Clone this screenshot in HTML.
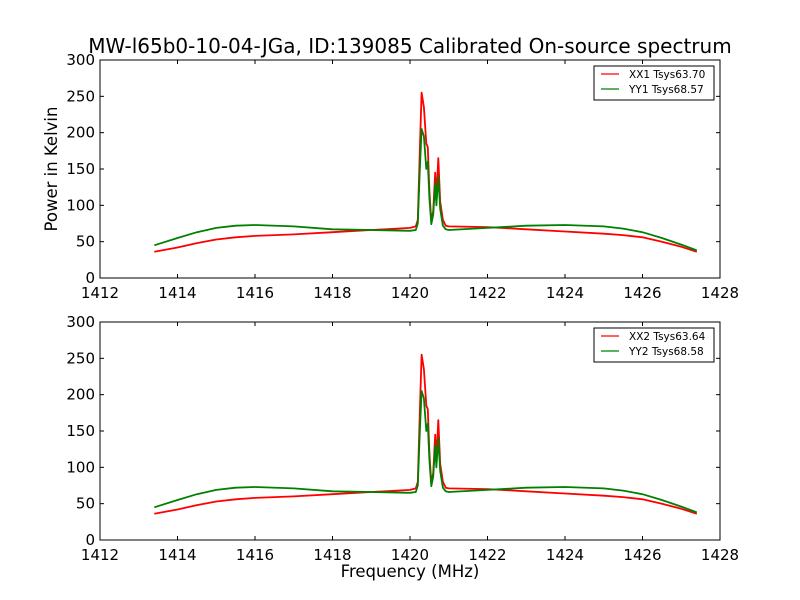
<!DOCTYPE html>
<html><head><meta charset="utf-8"><style>
body{margin:0;background:#fff}
svg{display:block;font-family:"DejaVu Sans","Liberation Sans",sans-serif}
</style></head><body>
<svg id="c" width="800" height="600" viewBox="0 0 800 600" xmlns="http://www.w3.org/2000/svg">
<rect width="800" height="600" fill="#fff"/>
<text x="410" y="53" text-anchor="middle" font-size="20">MW-l65b0-10-04-JGa, ID:139085 Calibrated On-source spectrum</text>
<text x="57" y="169" text-anchor="middle" font-size="16.5" transform="rotate(-90 57 169)">Power in Kelvin</text>
<text x="410" y="577" text-anchor="middle" font-size="16.5">Frequency (MHz)</text>
</svg>
<script>
const freqs=[1413.4,1414,1414.5,1415,1415.5,1416,1417,1418,1419,1420,1420.15,1420.2,1420.25,1420.3,1420.36,1420.42,1420.46,1420.5,1420.55,1420.6,1420.65,1420.68,1420.73,1420.78,1420.85,1420.92,1421,1422,1423,1424,1425,1425.5,1426,1426.5,1427,1427.4];
const xx1=[36,42,48,53,56,58,60,63,66,69,71,80,170,255,235,185,180,120,78,92,145,110,165,105,80,72,71,70,67,64,61,59,56,50,43,36];
const yy1=[45,55,63,69,72,73,71,67,66,65,66,75,145,205,195,150,160,110,74,87,130,100,140,95,72,67,66,69,72,73,71,68,63,55,46,38];
const xx2=xx1.slice();
const yy2=yy1.slice();
const xTicks=[1412,1414,1416,1418,1420,1422,1424,1426,1428];
const yTicks=[0,50,100,150,200,250,300];
const panels=[{top:60,names:['XX1 Tsys63.70','YY1 Tsys68.57'],a:xx1,b:yy1,id:'top'},{top:322,names:['XX2 Tsys63.64','YY2 Tsys68.58'],a:xx2,b:yy2,id:'bottom'}];
const svg=document.getElementById('c');
const NS='http://www.w3.org/2000/svg';
function mk(t,at,p){const e=document.createElementNS(NS,t);for(const k in at)e.setAttribute(k,at[k]);(p||svg).appendChild(e);return e;}
const L=100,R=720,H=218;
const xs=f=>L+(f-1412)/(1428-1412)*(R-L);
panels.forEach(p=>{
  const ys=v=>p.top+H-v/300*H;
  const g=mk('g',{});
  
  
  [[p.a,'#ff0000','xx'],[p.b,'#008000','yy']].forEach(s=>{
    const pl=mk('polyline',{points:freqs.map((f,i)=>xs(f).toFixed(1)+','+ys(s[0][i]).toFixed(1)).join(' '),fill:'none',stroke:s[1],'stroke-width':1.8,'stroke-linejoin':'round'},g);
    
    
  });
  mk('rect',{x:L,y:p.top,width:R-L,height:H,fill:'none',stroke:'#000','stroke-width':1},g);
  xTicks.forEach(t=>{
    const x=xs(t);
    mk('line',{x1:x,x2:x,y1:p.top+H,y2:p.top+H-4,stroke:'#000'},g);
    mk('line',{x1:x,x2:x,y1:p.top,y2:p.top+4,stroke:'#000'},g);
    const tx=mk('text',{x:x,y:p.top+H+20,'text-anchor':'middle','font-size':15},g);tx.textContent=t;
    
    
  });
  yTicks.forEach(t=>{
    const y=ys(t);
    mk('line',{x1:L,x2:L+4,y1:y,y2:y,stroke:'#000'},g);
    mk('line',{x1:R,x2:R-4,y1:y,y2:y,stroke:'#000'},g);
    const tx=mk('text',{x:L-5,y:y+5,'text-anchor':'end','font-size':15},g);tx.textContent=t;
    
    
  });
  const lg=mk('g',{},g);
  
  
  mk('rect',{x:594,y:p.top+6,width:120,height:34,fill:'#fff',stroke:'#000'},lg);
  [['#ff0000',p.names[0]],['#008000',p.names[1]]].forEach((e,i)=>{
    const y=p.top+14+i*15;
    mk('line',{x1:601,x2:619,y1:y,y2:y,stroke:e[0],'stroke-width':1.2},lg);
    const tx=mk('text',{x:629,y:y+4,'font-size':10.5},lg);tx.textContent=e[1];
    
    
  });
});
</script>
</body></html>
